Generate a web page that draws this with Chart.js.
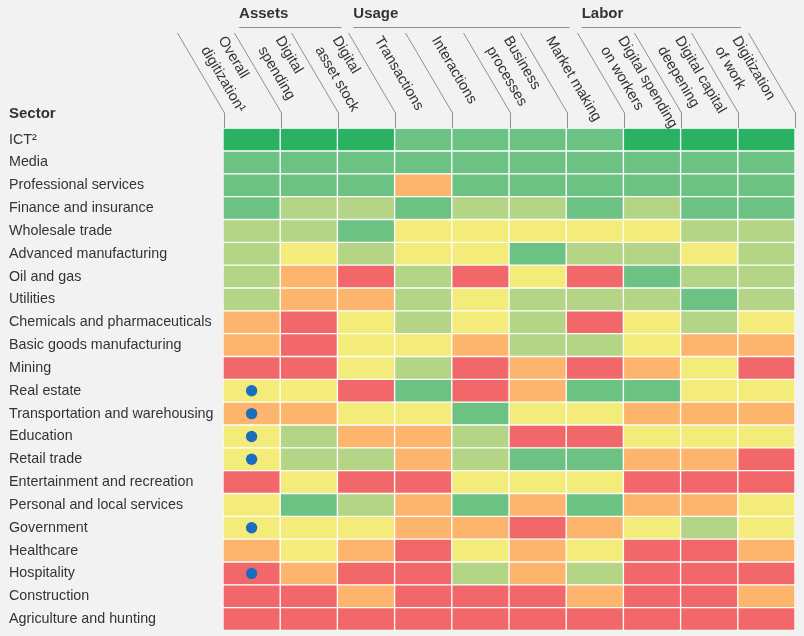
<!DOCTYPE html>
<html>
<head>
<meta charset="utf-8">
<script src="https://cdn.jsdelivr.net/npm/chart.js@4/dist/chart.umd.min.js"></script>
<style>
html,body{margin:0;padding:0;background:#f2f2f2;}
canvas{display:block;}
</style>
</head>
<body>
<canvas id="c" width="804" height="636"></canvas>
<script>
// ---------- DATA ----------
const sectors = [
  "ICT²","Media","Professional services","Finance and insurance","Wholesale trade",
  "Advanced manufacturing","Oil and gas","Utilities","Chemicals and pharmaceuticals",
  "Basic goods manufacturing","Mining","Real estate","Transportation and warehousing",
  "Education","Retail trade","Entertainment and recreation","Personal and local services",
  "Government","Healthcare","Hospitality","Construction","Agriculture and hunting"
];
const columnLabels = [
  ["Overall","digitization¹"],["Digital","spending"],["Digital","asset stock"],
  ["Transactions"],["Interactions"],["Business","processes"],["Market making"],
  ["Digital spending","on workers"],["Digital capital","deepening"],["Digitization","of work"]
];
const groups = [
  {name:"Assets", first:1, last:2},
  {name:"Usage",  first:3, last:6},
  {name:"Labor",  first:7, last:9}
];
// digitization level per sector (rows) and column: 1 = lowest ... 6 = highest
const levels = [
  [6,6,6,5,5,5,5,6,6,6],
  [5,5,5,5,5,5,5,5,5,5],
  [5,5,5,2,5,5,5,5,5,5],
  [5,4,4,5,4,4,5,4,5,5],
  [4,4,5,3,3,3,3,3,4,4],
  [4,3,4,3,3,5,4,4,3,4],
  [4,2,1,4,1,3,1,5,4,4],
  [4,2,2,4,3,4,4,4,5,4],
  [2,1,3,4,3,4,1,3,4,3],
  [2,1,3,3,2,4,4,3,2,2],
  [1,1,3,4,1,2,1,2,3,1],
  [3,3,1,5,1,2,5,5,3,3],
  [2,2,3,3,5,3,3,2,2,2],
  [3,4,2,2,4,1,1,3,3,3],
  [3,4,4,2,4,5,5,2,2,1],
  [1,3,1,1,3,3,3,1,1,1],
  [3,5,4,2,5,2,5,2,2,3],
  [3,3,3,2,2,1,2,3,4,3],
  [2,3,2,1,3,2,3,1,1,2],
  [1,2,1,1,4,2,4,1,1,1],
  [1,1,2,1,1,1,2,1,1,2],
  [1,1,1,1,1,1,1,1,1,1]
];
const dotSectors = ["Real estate","Transportation and warehousing","Education","Retail trade","Government","Hospitality"];
const dotColumn = 0;

// ---------- STYLE ----------
const palette = {1:"#f2686a",2:"#fdb56e",3:"#f3ec7b",4:"#b4d585",5:"#6bc283",6:"#2ab162"};
const FONT = '"Liberation Sans", Arial, Helvetica, sans-serif';
const TEXT = "#333333";

const datasets = columnLabels.map((lab, c) => ({
  type: "bar",
  indexAxis: "y",
  label: lab.join(" "),
  data: sectors.map(() => [c, c + 1]),
  backgroundColor: sectors.map((s, r) => palette[levels[r][c]]),
  borderColor: "#ffffff",
  borderWidth: 1,
  borderSkipped: false,
  grouped: false,
  barPercentage: 1,
  categoryPercentage: 1
}));
datasets.push({
  type: "scatter",
  label: "dots",
  data: dotSectors.map(s => ({x: dotColumn + 0.5, y: s})),
  backgroundColor: "#1b6ebe",
  borderWidth: 0,
  pointRadius: 5.7,
  order: -1
});

const headerPlugin = {
  id: "header",
  afterDraw(chart) {
    const ctx = chart.ctx, a = chart.chartArea;
    const n = columnLabels.length;
    const pitch = (a.right - a.left - 1) / n;
    const colX = c => a.left + 1 + c * pitch;
    const yKnee = 113, yTop = 33, dxDiag = 47;
    const theta = Math.atan2(yKnee - yTop, dxDiag);
    ctx.save();
    // diagonals
    ctx.strokeStyle = "#8f8f8f";
    ctx.lineWidth = 1;
    for (let c = 0; c <= n; c++) {
      const x = Math.round(colX(c)) + 0.5;
      ctx.beginPath();
      ctx.moveTo(x, a.top);
      ctx.lineTo(x, yKnee);
      ctx.lineTo(x - dxDiag, yTop);
      ctx.stroke();
    }
    // group headers
    ctx.fillStyle = TEXT;
    ctx.font = "bold 15px " + FONT;
    ctx.textBaseline = "middle";
    ctx.textAlign = "left";
    groups.forEach(g => {
      const x0 = colX(g.first) - dxDiag + 5;
      const x1 = colX(g.last + 1) - dxDiag - 7;
      ctx.beginPath();
      ctx.moveTo(x0, 27.5);
      ctx.lineTo(x1, 27.5);
      ctx.stroke();
      ctx.fillText(g.name, x0, 14);
    });
    // Sector title
    ctx.fillText("Sector", 9, 114);
    // column labels
    ctx.font = "14.6px " + FONT;
    columnLabels.forEach((lines, c) => {
      const ox = colX(c) - dxDiag + pitch / 2, oy = yTop;
      ctx.save();
      ctx.translate(ox, oy);
      ctx.rotate(theta);
      if (lines.length === 1) {
        ctx.fillText(lines[0], 4.5, 1.5);
      } else {
        ctx.fillText(lines[0], 12, -11.5);
        ctx.fillText(lines[1], 12, 8.5);
      }
      ctx.restore();
    });
    ctx.restore();
  }
};

new Chart(document.getElementById("c"), {
  type: "bar",
  data: { labels: sectors, datasets },
  options: {
    responsive: false,
    devicePixelRatio: 1,
    animation: false,
    events: [],
    indexAxis: "y",
    layout: { autoPadding: false, padding: { left: 9, right: 9, top: 128.2, bottom: 5.5 } },
    plugins: { legend: { display: false }, tooltip: { enabled: false } },
    scales: {
      x: { type: "linear", min: 0, max: columnLabels.length, display: false },
      y: {
        type: "category",
        labels: sectors,
        offset: true,
        grid: { display: false },
        border: { display: false },
        ticks: {
          autoSkip: false,
          crossAlign: "far",
          padding: 0,
          color: TEXT,
          font: { family: FONT, size: 14.3, lineHeight: 0.5 }
        },
        afterFit(axis) { axis.width = 214; }
      }
    }
  },
  plugins: [headerPlugin]
});
</script>
</body>
</html>
